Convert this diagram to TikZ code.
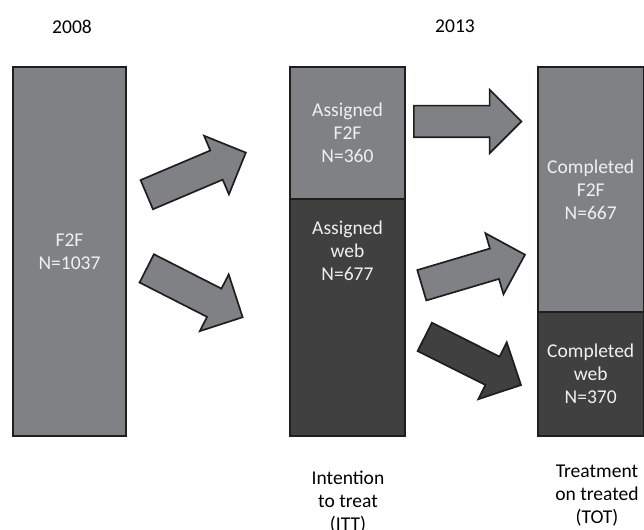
\documentclass[tikz,border=0pt]{standalone}
\usepackage{fontspec}
\setmainfont{Carlito}
\usepackage{tikz}
\usetikzlibrary{positioning,shapes.arrows}
\definecolor{ffgray}{RGB}{128,129,133}
\definecolor{webdark}{RGB}{64,64,64}
\definecolor{edgeblk}{RGB}{30,30,30}
\definecolor{txtwhite}{RGB}{240,240,240}

\begin{document}
\begin{tikzpicture}[
  grpbox/.style={draw=edgeblk,line width=1.2pt,outer sep=0pt,inner sep=0pt,
                 align=center,text=txtwhite,font=\fontsize{13.9}{16.4}\selectfont},
  boxtxt/.style={align=center,text=txtwhite,font=\fontsize{13.9}{16.4}\selectfont},
  plainlbl/.style={align=center,text=black,font=\fontsize{13.9}{16.4}\selectfont},
  fatarrow/.style={shape=single arrow,draw=edgeblk,line width=1.2pt,inner xsep=0pt,
                   inner ysep=0.375cm,single arrow head extend=0.4cm,
                   minimum height=2.69cm,anchor=tail}]
  \useasboundingbox (0,0) rectangle (16.1,13.25);

  %% 2008 sample
  \node[grpbox,fill=ffgray,minimum width=2.825cm,minimum height=9.225cm]
        (f2f08) at (1.7375,6.9625) {F2F\\N=1037};
  \node[plainlbl] (y08) at (1.8,12.575) {2008};

  %% 2013 assignment (ITT)
  \node[grpbox,fill=ffgray,minimum width=2.875cm,minimum height=3.3cm]
        (itf2f) at (8.6875,9.925) {Assigned\\F2F\\N=360};
  \node[grpbox,fill=webdark,minimum width=2.875cm,minimum height=5.925cm,
        below=0pt of itf2f] (itweb) {};
  \node[boxtxt,below=0.43cm of itweb.north] (itwebtxt) {Assigned\\web\\N=677};
  \node[plainlbl] (y13) at (11.375,12.6) {2013};
  \node[plainlbl] (itt) at (8.7,0.7) {Intention\\to treat\\(ITT)};

  %% 2013 completion (TOT)
  \node[grpbox,fill=ffgray,minimum width=2.6375cm,minimum height=6.125cm]
        (totf2f) at (14.76875,8.5125) {Completed\\F2F\\N=667};
  \node[grpbox,fill=webdark,minimum width=2.6375cm,minimum height=3.1cm,
        below=0pt of totf2f] (totweb) {Completed\\web\\N=370};
  \node[plainlbl] (tot) at (14.925,0.85) {Treatment\\on treated\\(TOT)};

  %% Block arrows
  \node[fatarrow,fill=ffgray,rotate=23] (a1) at (3.65,8.375) {};
  \node[fatarrow,fill=ffgray,rotate=-27] (a2) at (3.65,6.55) {};
  \node[fatarrow,fill=ffgray] (a3) at (10.325,10.2125) {};
  \node[fatarrow,fill=ffgray,rotate=16.5] (a4) at (10.525,6.1125) {};
  \node[fatarrow,fill=webdark,rotate=-26.6] (a5) at (10.6,4.8375) {};
\end{tikzpicture}
\end{document}
